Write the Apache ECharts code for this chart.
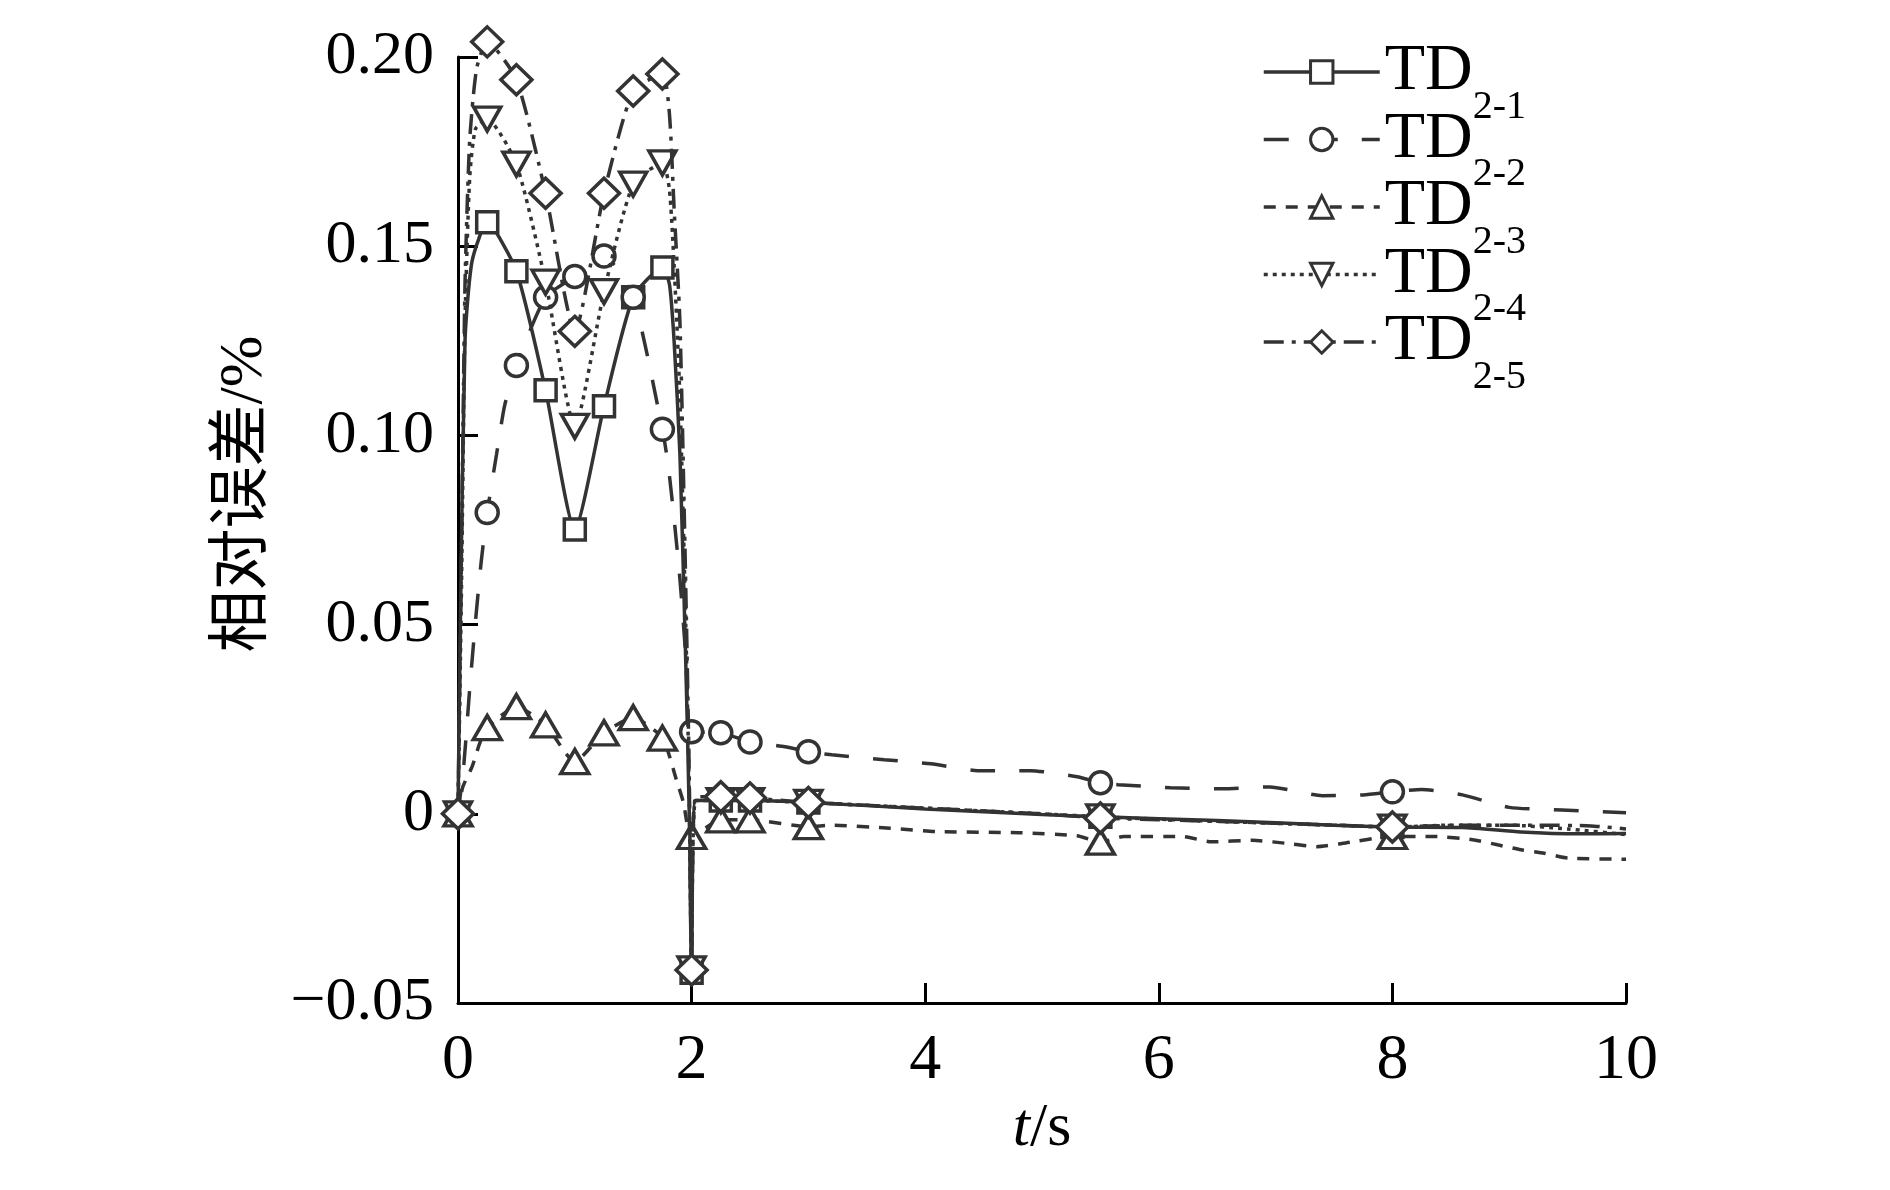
<!DOCTYPE html>
<html>
<head>
<meta charset="utf-8">
<script src="https://cdn.jsdelivr.net/npm/echarts@6/dist/echarts.min.js"></script>
<style>
html,body{margin:0;padding:0;background:#fff;}
#chart{width:1890px;height:1190px;}
</style>
</head>
<body>
<div id="chart"></div>
<script>
// ---- data ----
const SUBS = ['2-1', '2-2', '2-3', '2-4', '2-5'];
const X_LABELS = ['0', '2', '4', '6', '8', '10'];
const Y_LABELS = ['\u22120.05', '0', '0.05', '0.10', '0.15', '0.20'];
const MARK_T = [0, 0.25, 0.5, 0.75, 1, 1.25, 1.5, 1.75, 2, 2.25, 2.5, 3, 5.5, 8];

const TD21 = [[0,0],[0.02,0.05],[0.06,0.125],[0.12,0.146],[0.25,0.1563],[0.5,0.1434],[0.75,0.1119],[1.0,0.0751],[1.25,0.1077],[1.5,0.1365],[1.75,0.1444],[1.81,0.14],[1.85,0.125],[1.9,0.095],[1.95,0.04],[1.98,0.0],[2.0,-0.042],[2.035,0.0035],[2.25,0.0035],[2.5,0.0035],[3.0,0.003],[4.0,0.0013],[5.0,-0.0002],[5.5,-0.0008],[6.5,-0.0018],[7.5,-0.003],[8.0,-0.0035],[8.6,-0.0036],[9.1,-0.0048],[9.6,-0.0053],[10,-0.0052]];
const TD22 = [[0,0],[0.05,0.013],[0.1,0.033],[0.15,0.051],[0.2,0.067],[0.25,0.0796],[0.33,0.095],[0.4,0.108],[0.5,0.1185],[0.75,0.1365],[1.0,0.142],[1.25,0.1474],[1.5,0.1365],[1.75,0.1016],[1.8,0.092],[1.85,0.078],[1.9,0.062],[1.95,0.042],[2.0,0.0217],[2.25,0.0214],[2.5,0.019],[2.8,0.0177],[3.0,0.0164],[3.2,0.0156],[3.65,0.0143],[4.05,0.0132],[4.45,0.0114],[4.9,0.0114],[5.3,0.0098],[5.5,0.0082],[5.65,0.0077],[6.1,0.0069],[6.55,0.0066],[6.95,0.0071],[7.4,0.0048],[7.75,0.005],[8.0,0.0058],[8.25,0.0064],[8.6,0.005],[9.0,0.0017],[9.45,0.001],[10,0.0003]];
const TD23 = [[0,0],[0.04,0.007],[0.12,0.0124],[0.19,0.019],[0.25,0.0228],[0.5,0.0283],[0.75,0.0235],[1.0,0.0138],[1.25,0.0214],[1.5,0.0254],[1.75,0.020],[1.87,0.009],[1.93,0.003],[2.0,-0.006],[2.25,-0.0016],[2.5,-0.0016],[3.0,-0.0034],[3.2,-0.003],[3.7,-0.0038],[4.1,-0.0047],[4.8,-0.005],[5.3,-0.0058],[5.5,-0.0075],[5.7,-0.006],[6.2,-0.006],[6.45,-0.0074],[6.8,-0.007],[7.15,-0.008],[7.35,-0.0087],[7.6,-0.0077],[8.0,-0.006],[8.35,-0.006],[8.7,-0.0069],[8.9,-0.0082],[9.1,-0.0095],[9.3,-0.0104],[9.5,-0.0117],[10,-0.012]];
const TD24 = [[0,0],[0.03,0.06],[0.06,0.13],[0.1,0.168],[0.15,0.181],[0.25,0.1836],[0.5,0.1717],[0.75,0.1405],[1.0,0.1024],[1.25,0.138],[1.5,0.1664],[1.75,0.172],[1.81,0.165],[1.85,0.145],[1.9,0.11],[1.95,0.05],[1.98,0.005],[2.0,-0.041],[2.035,0.0035],[2.25,0.0035],[2.5,0.0035],[3.0,0.003],[4.0,0.0015],[5.0,0.0],[5.5,-0.0008],[6.5,-0.002],[7.5,-0.003],[8.0,-0.0035],[8.5,-0.003],[9.0,-0.003],[9.5,-0.004],[10,-0.0055]];
const TD25 = [[0,0],[0.03,0.07],[0.06,0.14],[0.1,0.178],[0.16,0.197],[0.25,0.204],[0.5,0.194],[0.75,0.164],[1.0,0.1275],[1.25,0.164],[1.5,0.191],[1.75,0.1955],[1.81,0.185],[1.85,0.16],[1.9,0.13],[1.95,0.06],[1.98,0.01],[2.0,-0.0413],[2.035,0.0045],[2.25,0.0045],[2.5,0.0042],[3.0,0.003],[4.0,0.0015],[5.0,0.0],[5.5,-0.0011],[6.5,-0.002],[7.5,-0.003],[8.0,-0.0035],[8.6,-0.003],[9.2,-0.003],[9.7,-0.0032],[10,-0.004]];

// ---- styling ----
const SERIF = "'Liberation Serif', 'Times New Roman', serif";
const INK = '#333333';
const LW = 3.5;
const DEFS = [
  { data: TD21, symbol: 'rect', size: [21, 21], rotate: 0, dash: 'solid' },
  { data: TD22, symbol: 'circle', size: [22, 22], rotate: 0, dash: [25, 24] },
  { data: TD23, symbol: 'triangle', size: [28, 24], rotate: 0, dash: [12, 10] },
  { data: TD24, symbol: 'triangle', size: [27, 24], rotate: 180, dash: [4, 5] },
  { data: TD25, symbol: 'diamond', size: [31, 30], rotate: 0, dash: [20, 8, 4, 8] }
];

const series = DEFS.map((d, i) => ({
  name: 'TD' + SUBS[i],
  type: 'line',
  data: d.data.map(p => (MARK_T.indexOf(p[0]) >= 0 ? { value: p } : { value: p, symbol: 'none' })),
  symbol: d.symbol,
  symbolSize: d.size,
  symbolRotate: d.rotate,
  showAllSymbol: true,
  smooth: 0.2,
  clip: false,
  lineStyle: { color: INK, width: LW, type: d.dash, cap: 'butt' },
  itemStyle: { color: '#ffffff', borderColor: INK, borderWidth: LW },
  z: 2 + i,
  animation: false
}));

const chart = echarts.init(document.getElementById('chart'), null, { renderer: 'canvas' });
chart.setOption({
  backgroundColor: '#ffffff',
  animation: false,
  grid: { left: 458, right: 264, top: 57, bottom: 187, containLabel: false },
  xAxis: {
    type: 'value', min: 0, max: 10, interval: 2,
    name: '{i|t}/s', nameLocation: 'middle', nameGap: 95,
    nameTextStyle: { fontSize: 62, fontFamily: SERIF, color: '#000', rich: { i: { fontSize: 62, fontFamily: SERIF, fontStyle: 'italic', color: '#000' } } },
    axisLine: { onZero: false, lineStyle: { color: '#000', width: 3 } },
    axisTick: { inside: true, length: 20, lineStyle: { color: '#000', width: 3 } },
    axisLabel: { fontSize: 64, fontFamily: SERIF, color: '#000', margin: 26, formatter: (v, idx) => X_LABELS[idx] },
    splitLine: { show: false }
  },
  yAxis: {
    type: 'value', min: -0.05, max: 0.2, interval: 0.05,
    axisLine: { show: true, onZero: false, lineStyle: { color: '#000', width: 3 } },
    axisTick: { show: true, inside: true, length: 20, lineStyle: { color: '#000', width: 3 } },
    axisLabel: { fontSize: 62, fontFamily: SERIF, color: '#000', margin: 24, formatter: (v, idx) => Y_LABELS[idx] },
    splitLine: { show: false }
  },
  legend: {
    orient: 'vertical', left: 1262, top: 39, padding: 0,
    itemWidth: 116, itemHeight: 28, itemGap: -20.5,
    selectedMode: false,
    data: series.map(s => s.name),
    lineStyle: { width: 3.5 },
    itemStyle: { borderWidth: 3 },
    formatter: name => '{m|TD}{s|' + name.slice(2) + '}',
    textStyle: {
      color: '#000',
      rich: {
        m: { fontSize: 66, fontFamily: SERIF, color: '#000', lineHeight: 110 },
        s: { fontSize: 40, fontFamily: SERIF, color: '#000', lineHeight: 44, verticalAlign: 'bottom' }
      }
    }
  },
  graphic: [{
    type: 'text', x: 245, y: 494, rotation: Math.PI / 2,
    style: { text: '相对误差/%', fontSize: 62, fontFamily: "'Liberation Serif', 'Noto Sans CJK SC', serif", fill: '#000', textAlign: 'center', textVerticalAlign: 'middle' }
  }],
  series: series
});
</script>
</body>
</html>
